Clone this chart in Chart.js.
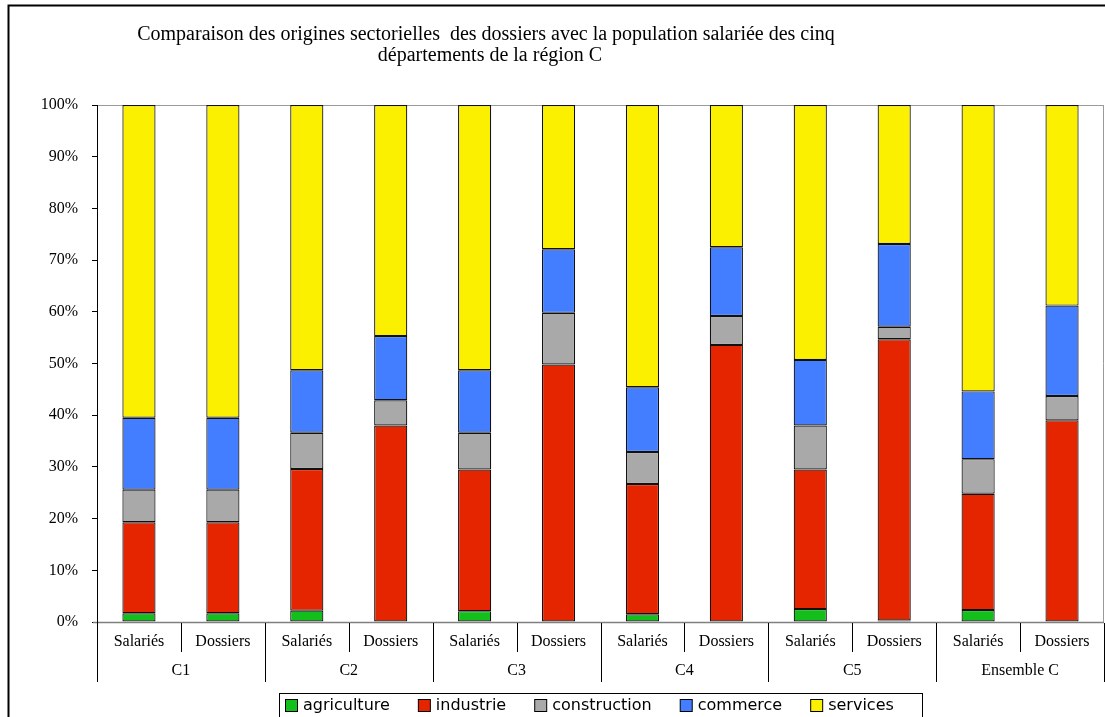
<!DOCTYPE html>
<html>
<head>
<meta charset="utf-8">
<script src="https://cdn.jsdelivr.net/npm/chart.js@4/dist/chart.umd.min.js"></script>
<style>
html,body{margin:0;padding:0;background:#fff;}
#wrap{position:relative;width:1105px;height:717px;}
</style>
</head>
<body>
<div id="wrap"><canvas id="c" width="1105" height="717"></canvas></div>
<script>
const titleLines = ["Comparaison des origines sectorielles  des dossiers avec la population salariée des cinq", "départements de la région C"];
const groups = ["C1", "C2", "C3", "C4", "C5", "Ensemble C"];
const subLabels = ["Salariés", "Dossiers"];
const categories = groups.flatMap(g => subLabels.map(s => g + " " + s));
const yTicks = [0,10,20,30,40,50,60,70,80,90,100];

const agriculture  = [1.7, 1.7, 2.2, 0.0, 2.1, 0.0, 1.5, 0.0, 2.5, 0.3, 2.3, 0.1];
const industrie    = [17.6,17.6,27.4,38.0,27.4,49.8,25.2,53.6,27.0,54.4,22.5,38.9];
const construction = [6.3, 6.3, 7.0, 4.9, 7.1, 10.0,6.2, 5.6, 8.5, 2.4, 6.7, 4.7];
const commerce     = [13.9,13.9,12.1,12.4,12.1,12.3,12.5,13.3,12.7,16.0,13.1,17.5];
const services     = [60.5,60.5,51.3,44.7,51.3,27.9,54.6,27.5,49.3,26.9,55.4,38.8];

const seriesNames = ["agriculture","industrie","construction","commerce","services"];
const seriesData = [agriculture, industrie, construction, commerce, services];
const colors = ["#12BF1B","#E52400","#A9A9A9","#427EFF","#FBF000"];

const SERIF = "'Liberation Serif','Times New Roman',serif";
const SANS = "'DejaVu Sans',Verdana,sans-serif";

const decor = {
  id: 'decor',
  beforeDraw(chart) {
    const ctx = chart.ctx;
    ctx.save();
    ctx.fillStyle = '#fff';
    ctx.fillRect(0,0,chart.width,chart.height);
    ctx.restore();
  },
  afterDraw(chart) {
    const ctx = chart.ctx;
    const ca = chart.chartArea;
    const x = chart.scales.x;
    ctx.save();
    // outer border
    ctx.strokeStyle = '#000';
    ctx.lineWidth = 2;
    ctx.beginPath();
    ctx.moveTo(8.5, 717); ctx.lineTo(8.5, 5.5); ctx.lineTo(1105, 5.5);
    ctx.stroke();
    // title
    ctx.fillStyle = '#000';
    ctx.font = '20px ' + SERIF;
    ctx.textAlign = 'center';
    ctx.textBaseline = 'middle';
    ctx.fillText(titleLines[0], 486, 35);
    ctx.fillText(titleLines[1], 490, 56);
    // right plot border
    ctx.strokeStyle = '#9a9a9a';
    ctx.lineWidth = 1;
    ctx.beginPath();
    ctx.moveTo(Math.round(ca.right) - 0.5, ca.top);
    ctx.lineTo(Math.round(ca.right) - 0.5, ca.bottom);
    ctx.stroke();
    // x axis line
    ctx.strokeStyle = '#808080';
    ctx.lineWidth = 1.5;
    ctx.beginPath();
    ctx.moveTo(93, ca.bottom + 0.5);
    ctx.lineTo(ca.right, ca.bottom + 0.5);
    ctx.stroke();
    // category separators
    const n = categories.length;
    const slot = (ca.right - ca.left) / n;
    ctx.strokeStyle = '#000';
    ctx.lineWidth = 1;
    for (let k = 0; k <= n; k++) {
      const px = Math.round(ca.left + slot * k) + 0.5;
      const yEnd = (k % 2 === 0) ? ca.bottom + 60 : ca.bottom + 30;
      ctx.beginPath();
      ctx.moveTo(px, k === 0 ? ca.top : ca.bottom + 1);
      ctx.lineTo(px, yEnd);
      ctx.stroke();
    }
    // sub labels and group labels
    ctx.fillStyle = '#000';
    ctx.font = '16px ' + SERIF;
    ctx.textAlign = 'center';
    ctx.textBaseline = 'middle';
    categories.forEach((c, i) => {
      const px = x.getPixelForValue(i);
      ctx.fillText(subLabels[i % 2], px, ca.bottom + 20);
    });
    groups.forEach((g, gi) => {
      const px = (x.getPixelForValue(gi*2) + x.getPixelForValue(gi*2+1)) / 2;
      ctx.fillText(g, px, ca.bottom + 49);
    });
    // legend
    ctx.font = '16px ' + SANS;
    ctx.textAlign = 'left';
    ctx.textBaseline = 'middle';
    const ly = 705;
    let lx = 285;
    const items = chart.data.datasets.map(d => ({label: d.label, color: d.backgroundColor}));
    const positions = [];
    items.forEach(it => {
      const w = ctx.measureText(it.label).width;
      positions.push({x: lx, w});
      lx = lx + 18 + w + 28;
    });
    const boxLeft = 279, boxRight = Math.max(922, positions[positions.length-1].x + 18 + positions[positions.length-1].w + 8);
    ctx.strokeStyle = '#000';
    ctx.lineWidth = 1;
    ctx.strokeRect(boxLeft + 0.5, 693.5, boxRight - boxLeft, 24);
    items.forEach((it, i) => {
      const p = positions[i];
      ctx.fillStyle = it.color;
      ctx.fillRect(p.x + 0.5, ly - 6 + 0.5, 12, 12);
      ctx.strokeStyle = '#000';
      ctx.strokeRect(p.x + 0.5, ly - 6 + 0.5, 12, 12);
      ctx.fillStyle = '#000';
      ctx.fillText(it.label, p.x + 18, ly + 1);
    });
    ctx.restore();
  }
};

new Chart(document.getElementById('c'), {
  type: 'bar',
  data: {
    labels: categories,
    datasets: seriesNames.map((name, i) => ({
      label: name,
      data: seriesData[i],
      backgroundColor: colors[i],
      borderColor: '#111',
      borderWidth: 1.2,
      borderSkipped: false,
      categoryPercentage: 1,
      barPercentage: 0.395
    }))
  },
  options: {
    responsive: false,
    animation: false,
    layout: { padding: { top: 105, bottom: 95, left: 0, right: 1 } },
    plugins: { legend: { display: false }, title: { display: false }, tooltip: { enabled: false } },
    scales: {
      x: {
        stacked: true,
        ticks: { display: false },
        grid: { display: false },
        border: { display: false },
        afterFit(s) { s.height = 0; }
      },
      y: {
        stacked: true,
        min: 0, max: 100,
        afterBuildTicks(s) { s.ticks = yTicks.map(v => ({ value: v })); },
        afterFit(s) { s.width = 97; },
        ticks: {
          callback: v => v + '%',
          color: '#000',
          font: { family: SERIF, size: 16 },
          padding: 14
        },
        grid: {
          drawOnChartArea: true,
          color: c => (c.tick && c.tick.value === 100) ? '#9a9a9a' : 'rgba(0,0,0,0)',
          tickColor: '#000',
          tickLength: 5
        },
        border: { display: true, color: '#000', width: 1 }
      }
    }
  },
  plugins: [decor]
});
</script>
</body>
</html>
